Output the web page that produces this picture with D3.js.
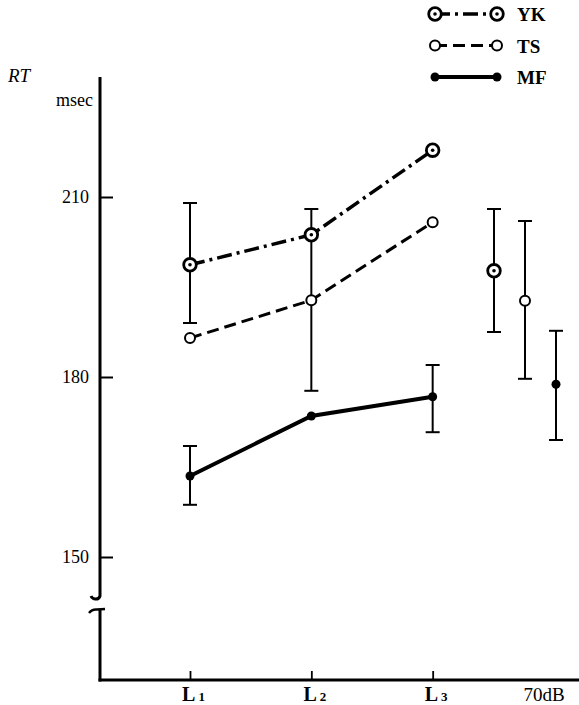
<!DOCTYPE html>
<html><head><meta charset="utf-8">
<script src="https://cdn.jsdelivr.net/npm/d3@7"></script>
<style>
body{margin:0;background:#fff;}
svg{display:block;}
svg text{font-family:"Liberation Serif","DejaVu Serif",serif;}
</style></head>
<body><svg id="c" width="579" height="705"></svg>
<script>
// ---- data ----
const categories = ["L1", "L2", "L3", "70dB"];
const levels = ["L1", "L2", "L3"];
const seriesNames = ["YK", "TS", "MF"];
const ykValues = [198.7, 203.7, 217.8];
const tsValues = [186.5, 192.8, 205.8];
const mfValues = [163.5, 173.5, 176.7];
// error bars drawn at the level positions
const errLevel = ["L1", "L1", "L2", "L3"];
const errLow = [189.0, 158.7, 177.7, 170.8];
const errHigh = [209.0, 168.5, 208.0, 182.0];
// reference at 70dB, one per series
const ref70Values = [197.7, 192.7, 178.8];
const ref70Low = [187.5, 179.7, 169.5];
const ref70High = [208.0, 206.0, 187.7];
const yTicks = [150, 180, 210];

// ---- layout ----
const FONT = "Liberation Serif, DejaVu Serif, serif";
const svg = d3.select("#c");
const axisX = 100, axisBottom = 680;
const y = d3.scaleLinear().domain([150, 210]).range([557, 197]);
const x = d3.scalePoint().domain(categories).range([190, 554]);
const sub = d3.scalePoint().domain(seriesNames).range([-60, 2]);
const series = [
  {name: "YK", values: ykValues, dash: "15,5,3,5", width: 3.5},
  {name: "TS", values: tsValues, dash: "12,6", width: 3},
  {name: "MF", values: mfValues, dash: null, width: 4}
];

// y axis line with break
const yTop = y(230);
svg.append("path")
  .attr("d", `M${axisX},${yTop} L${axisX},596 Q${axisX-1},599.5 ${axisX-5},599 Q${axisX-8},598.5 ${axisX-9},596`)
  .attr("fill", "none").attr("stroke", "#000").attr("stroke-width", 3);
svg.append("path")
  .attr("d", `M${axisX-11},613 Q${axisX-8},609 ${axisX-3},609.5 L${axisX+5},609`)
  .attr("fill", "none").attr("stroke", "#000").attr("stroke-width", 2.4);
svg.append("line").attr("x1", axisX).attr("x2", axisX).attr("y1", 609).attr("y2", axisBottom + 1.5)
  .attr("stroke", "#000").attr("stroke-width", 3);
// x axis line
svg.append("line").attr("x1", axisX - 1.5).attr("x2", 579).attr("y1", axisBottom).attr("y2", axisBottom)
  .attr("stroke", "#000").attr("stroke-width", 3);

// y ticks
const gy = svg.append("g").attr("transform", `translate(${axisX},0)`)
  .call(d3.axisLeft(y).tickValues(yTicks).tickSize(-13).tickPadding(11).tickFormat(d3.format("d")));
gy.attr("font-family", FONT);
gy.select(".domain").remove();
gy.selectAll(".tick line").attr("stroke", "#000").attr("stroke-width", 2);
gy.selectAll(".tick text").attr("font-size", 18).attr("fill", "#000").attr("font-family", FONT);

// x ticks
const gx = svg.append("g").attr("transform", `translate(0,${axisBottom})`)
  .call(d3.axisBottom(x).tickValues(levels).tickSize(-9).tickPadding(6).tickFormat(""));
gx.attr("font-family", FONT);
gx.select(".domain").remove();
gx.selectAll(".tick line").attr("stroke", "#000").attr("stroke-width", 1.8);
gx.selectAll(".tick").append("text")
  .attr("y", 21).attr("x", 3).attr("text-anchor", "middle").attr("fill", "#000")
  .attr("font-size", 20).attr("font-weight", "bold").attr("font-family", FONT)
  .each(function(d){
    const t = d3.select(this);
    t.append("tspan").text(d[0]);
    t.append("tspan").attr("font-size", 13).attr("dx", 3).text(d.slice(1));
  });
svg.append("text").attr("x", x("70dB") - 10).attr("y", axisBottom + 21)
  .attr("text-anchor", "middle").attr("font-size", 19).attr("font-family", FONT).text("70dB");

// axis titles
svg.append("text").attr("x", 8).attr("y", 82).attr("font-size", 19).attr("font-family", FONT)
  .attr("font-style", "italic").text("RT");
svg.append("text").attr("x", 93).attr("y", 106).attr("font-size", 18).attr("font-family", FONT)
  .attr("text-anchor", "end").text("msec");

// error bars helper
function errBar(cx, lo, hi) {
  const g = svg.append("g");
  g.append("line").attr("x1", cx).attr("x2", cx).attr("y1", y(hi)).attr("y2", y(lo))
    .attr("stroke", "#000").attr("stroke-width", 2);
  [lo, hi].forEach(v => g.append("line").attr("x1", cx - 7).attr("x2", cx + 7)
    .attr("y1", y(v)).attr("y2", y(v)).attr("stroke", "#000").attr("stroke-width", 2));
}
errLevel.forEach((l, i) => errBar(x(l), errLow[i], errHigh[i]));
seriesNames.forEach((s, i) => errBar(x("70dB") + sub(s), ref70Low[i], ref70High[i]));

// lines
const line = d3.line().x((d, i) => x(levels[i])).y(d => y(d));
series.forEach(s => {
  svg.append("path").datum(s.values).attr("d", line)
    .attr("fill", "none").attr("stroke", "#000").attr("stroke-width", s.width)
    .attr("stroke-dasharray", s.dash);
});

// markers
function marker(name, cx, cy) {
  if (name === "YK") {
    svg.append("circle").attr("cx", cx).attr("cy", cy).attr("r", 6.3)
      .attr("fill", "#fff").attr("stroke", "#000").attr("stroke-width", 2.8);
    svg.append("circle").attr("cx", cx).attr("cy", cy).attr("r", 1.8).attr("fill", "#000");
  } else if (name === "TS") {
    svg.append("circle").attr("cx", cx).attr("cy", cy).attr("r", 5)
      .attr("fill", "#fff").attr("stroke", "#000").attr("stroke-width", 2);
  } else {
    svg.append("circle").attr("cx", cx).attr("cy", cy).attr("r", 4.5).attr("fill", "#000");
  }
}
series.forEach(s => s.values.forEach((v, i) => marker(s.name, x(levels[i]), y(v))));
seriesNames.forEach((s, i) => marker(s, x("70dB") + sub(s), y(ref70Values[i])));

// legend
const legY = d3.scalePoint().domain(seriesNames).range([14, 77]);
series.forEach(s => {
  const ly = legY(s.name);
  svg.append("line").attr("x1", 435).attr("x2", 497).attr("y1", ly).attr("y2", ly)
    .attr("stroke", "#000").attr("stroke-width", s.width).attr("stroke-dasharray", s.dash);
  marker(s.name, 435, ly);
  marker(s.name, 497, ly);
  svg.append("text").attr("x", 517).attr("y", ly + 7).attr("font-size", 19).attr("font-family", FONT)
    .attr("font-weight", "bold").text(s.name);
});
</script></body></html>
